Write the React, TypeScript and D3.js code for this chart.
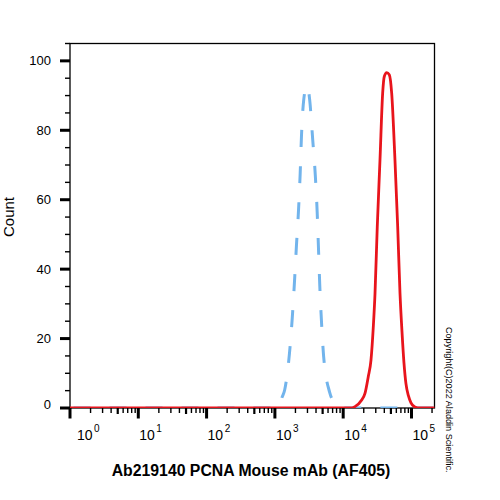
import React, { useEffect, useRef } from "react";
import * as d3 from "d3";

// stained sample (red, solid)
const redIntensity = [1, 10000, 13500, 14890, 18660, 20840, 23280, 25530, 27610, 29240, 31550, 34590, 37840, 39990, 43350, 47320, 51290, 57280, 62810, 67920, 72610, 77620, 82990, 90360, 98400, 112460, 133050, 220000];
const redCount = [0, 0, 0, 0.4, 2.3, 4.2, 9.0, 13.8, 23.4, 33.0, 52.2, 71.5, 90.7, 95.5, 96.6, 96.0, 90.7, 71.5, 52.2, 33.0, 22.0, 13.0, 7.0, 3.5, 1.5, 0.3, 0, 0];

// isotype control (blue, dashed)
const blueIntensity = [1, 1000, 1148, 1259, 1390, 1636, 1791, 1936, 2070, 2218, 2346, 2449, 2641, 2951, 3235, 3576, 3906, 4159, 4347, 4539, 4808, 5176, 6339, 7161, 8110, 10000, 220000];
const blueCount = [0, 0, 0, 2.8, 5.2, 15.8, 25.6, 36.4, 46.9, 57.0, 67.6, 78.2, 88.7, 93.0, 88.7, 77.4, 67.0, 56.5, 46.0, 35.4, 25.0, 14.8, 4.5, 1.8, 0, 0, 0];

const yTicks = [0, 20, 40, 60, 80, 100];
const xDecades = [0, 1, 2, 3, 4, 5];

const font = "'Liberation Sans', Arial, Helvetica, sans-serif";

export default function App() {
  const blueRef = useRef<SVGPathElement>(null);

  const left = 70, right = 434.5, top = 43.5, bottom = 408;
  const x = d3.scaleLog().domain([1, Math.pow(10, 5.337)]).range([left, right]);
  const y = d3.scaleLinear().domain([0, 105]).range([bottom, top]);

  const line = d3.line<[number, number]>()
    .x(d => x(d[0]))
    .y(d => y(d[1]))
    .curve(d3.curveMonotoneX);

  const redPath = line(redIntensity.map((v, i) => [v, redCount[i]] as [number, number])) || "";
  const bluePath = line(blueIntensity.map((v, i) => [v, blueCount[i]] as [number, number])) || "";

  // put the top of the dashed peak in a gap, like the original
  useEffect(() => {
    const p = blueRef.current;
    if (!p) return;
    const total = p.getTotalLength();
    let best = 0, bestY = Infinity;
    for (let l = 0; l <= total; l += 0.5) {
      const pt = p.getPointAtLength(l);
      if (pt.y < bestY) { bestY = pt.y; best = l; }
    }
    const period = 36;
    const off = ((26.5 - best) % period + period) % period;
    p.setAttribute("stroke-dashoffset", String(off));
  }, []);

  // minor ticks
  const yMinor = d3.range(5, 106, 5).filter(v => v % 20 !== 0);
  const xMinor: number[] = [];
  xDecades.forEach(d => {
    for (let m = 2; m <= 9; m++) {
      const v = m * Math.pow(10, d);
      if (v <= x.domain()[1]) xMinor.push(v);
    }
  });

  return (
    <svg width={500} height={500} style={{ position: "absolute", left: 0, top: 0, background: "#fff" }}>
      <defs>
        <clipPath id="plot">
          <rect x={left} y={top - 5} width={right - left} height={bottom - top + 5} />
        </clipPath>
      </defs>

      {/* frame */}
      <rect x={left} y={top} width={right - left} height={bottom - top} fill="none" stroke="#000" strokeWidth={1.3} />

      {/* y axis */}
      {yTicks.map(t => (
        <g key={"y" + t}>
          <line x1={left - 10} x2={left} y1={y(t)} y2={y(t)} stroke="#000" strokeWidth={3} />
          <text x={51} y={y(t) + (t === 0 ? 0.5 : 4.5)} textAnchor="end" fontFamily={font} fontSize={13}>{t}</text>
        </g>
      ))}
      {yMinor.map(t => (
        <line key={"ym" + t} x1={left - 5} x2={left} y1={y(t)} y2={y(t)} stroke="#000" strokeWidth={1.4} />
      ))}
      <text transform={`translate(14,217) rotate(-90)`} textAnchor="middle" fontFamily={font} fontSize={15}>Count</text>

      {/* x axis */}
      {xDecades.map(d => {
        const px = x(Math.pow(10, d));
        return (
          <g key={"x" + d}>
            <line x1={px} x2={px} y1={bottom} y2={bottom + 10.5} stroke="#000" strokeWidth={3} />
            <text x={px + (d === 0 ? 7 : 1)} y={440} fontFamily={font} fontSize={14}>
              10<tspan dx={1.5} dy={-8} fontSize={10}>{d}</tspan>
            </text>
          </g>
        );
      })}
      {xMinor.map(v => {
        const five = Math.round(v / Math.pow(10, Math.floor(Math.log10(v) + 1e-9))) === 5;
        return (
          <line key={"xm" + v} x1={x(v)} x2={x(v)} y1={bottom} y2={bottom + (five ? 6 : 5)} stroke="#000" strokeWidth={five ? 2.2 : 1.4} />
        );
      })}
      <text x={251} y={476} textAnchor="middle" fontFamily={font} fontSize={15.8} fontWeight="bold">Ab219140 PCNA Mouse mAb (AF405)</text>

      {/* curves */}
      <g clipPath="url(#plot)">
        <path ref={blueRef} d={bluePath} fill="none" stroke="#72b4ec" strokeWidth={3} strokeDasharray="17,19" />
        <path d={redPath} fill="none" stroke="#e8141c" strokeWidth={2.8} />
      </g>

      <text transform={`translate(446,327) rotate(90)`} fontFamily={font} fontSize={9.1}>Copyright(C)2022 Aladdin Scientific.</text>
    </svg>
  );
}
